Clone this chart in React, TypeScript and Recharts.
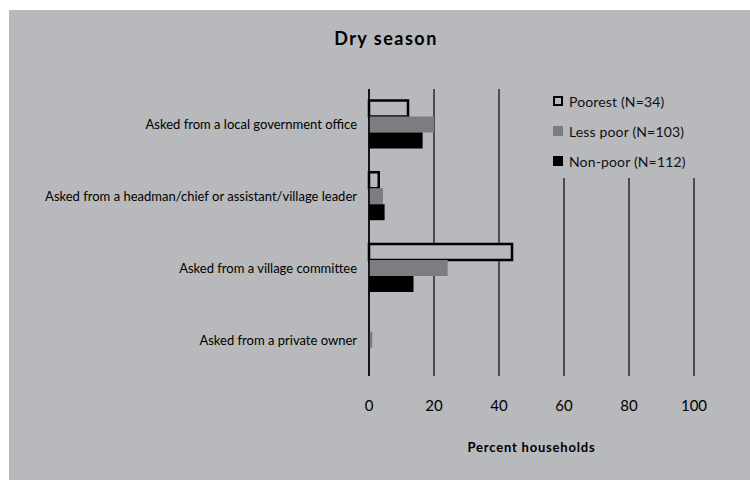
import React from 'react';
import { BarChart, Bar, XAxis, YAxis, CartesianGrid } from 'recharts';

const categories = [
    'Asked from a local government office',
    'Asked from a headman/chief or assistant/village leader',
    'Asked from a village committee',
    'Asked from a private owner',
];
const poorest = [12, 3, 44, 0];
const lessPoor = [20, 4.3, 24.2, 1];
const nonPoor = [16.5, 4.8, 13.7, 0];
const xTicks = [0, 20, 40, 60, 80, 100];

const BG = '#b8b9bc';
const FONT = 'Lato, "DejaVu Sans", sans-serif';

const legendItems = [
    { label: 'Poorest (N=34)', fill: BG, hollow: true },
    { label: 'Less poor (N=103)', fill: '#7c7d81', hollow: false },
    { label: 'Non-poor (N=112)', fill: '#000', hollow: false },
];

const data = categories.map((name, i) => ({
    name,
    poorest: poorest[i],
    lessPoor: lessPoor[i],
    nonPoor: nonPoor[i],
}));

// legend sits on a grey box so it hides the upper part of the 60/80/100 grid lines
const LegendBox = () => (
    <div style={{ position: 'absolute', left: 531, top: 79, width: 180, height: 89, background: BG }}>
        <div style={{ marginTop: -3, paddingLeft: 13 }}>
            {legendItems.map(item => (
                <div
                    key={item.label}
                    style={{ display: 'flex', alignItems: 'center', height: 30, fontFamily: FONT, fontSize: 14, letterSpacing: 0.15, color: '#111' }}
                >
                    <span
                        style={{
                            display: 'inline-block',
                            boxSizing: 'border-box',
                            width: 10,
                            height: 10,
                            background: item.fill,
                            border: item.hollow ? '2px solid #000' : 'none',
                            marginRight: 6,
                        }}
                    />
                    {item.label}
                </div>
            ))}
        </div>
    </div>
);

const App: React.FC = () => {
    return (
        <div style={{ position: 'absolute', left: 9, top: 10, width: 741, height: 470, background: BG }}>
            <div
                style={{
                    position: 'absolute',
                    top: 17,
                    left: 0,
                    width: 754,
                    textAlign: 'center',
                    fontFamily: FONT,
                    fontWeight: 700,
                    fontSize: 18,
                    letterSpacing: 1.5,
                    color: '#000',
                }}
            >
                Dry season
            </div>
            <BarChart
                width={741}
                height={470}
                data={data}
                layout="vertical"
                margin={{ top: 79, right: 56, bottom: 74, left: 0 }}
                barCategoryGap="16%"
                barGap={0}
            >
                <CartesianGrid horizontal={false} vertical stroke="#2a2a2a" strokeWidth={1.5} />
                <XAxis
                    type="number"
                    domain={[0, 100]}
                    ticks={xTicks}
                    axisLine={false}
                    tickLine={false}
                    tickSize={0}
                    tickMargin={24}
                    tick={{ fill: '#000', fontSize: 15, fontFamily: FONT }}
                    label={{
                        value: 'Percent households',
                        position: 'bottom',
                        offset: 37,
                        style: { fontFamily: FONT, fontWeight: 700, fontSize: 13, letterSpacing: 0.8, fill: '#000' },
                    }}
                />
                <YAxis
                    type="category"
                    dataKey="name"
                    width={360}
                    axisLine={{ stroke: '#000', strokeWidth: 1.5 }}
                    tickLine={false}
                    tickSize={0}
                    tickMargin={12}
                    tick={{ fill: '#000', fontSize: 13, fontFamily: FONT }}
                />
                <Bar dataKey="poorest" fill={BG} stroke="#000" strokeWidth={2.5} isAnimationActive={false} />
                <Bar dataKey="lessPoor" fill="#7c7d81" isAnimationActive={false} />
                <Bar dataKey="nonPoor" fill="#000" isAnimationActive={false} />
            </BarChart>
            <LegendBox />
        </div>
    );
};

export default App;
